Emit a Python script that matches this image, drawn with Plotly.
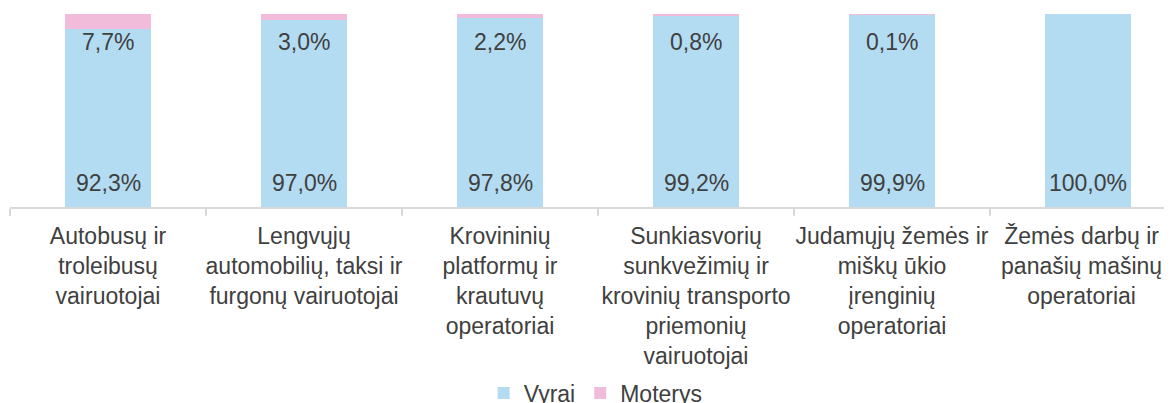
import plotly.graph_objects as go

categories = [
    "Autobusų ir<br>troleibusų<br>vairuotojai",
    "Lengvųjų<br>automobilių, taksi ir<br>furgonų vairuotojai",
    "Krovininių<br>platformų ir<br>krautuvų<br>operatoriai",
    "Sunkiasvorių<br>sunkvežimių ir<br>krovinių transporto<br>priemonių<br>vairuotojai",
    "Judamųjų žemės ir<br>miškų ūkio<br>įrenginių<br>operatoriai",
    "Žemės darbų ir<br>panašių mašinų<br>operatoriai",
]
vyrai = [92.3, 97.0, 97.8, 99.2, 99.9, 100.0]
moterys = [7.7, 3.0, 2.2, 0.8, 0.1, 0.0]

BLUE = "#b3dcf2"
PINK = "#f0bcd9"
TXT = "#404040"
FONT = "Liberation Sans, Arial, sans-serif"
FS = 23

def fmt(v):
    return f"{v:.1f}%".replace(".", ",")

# last label nudged left so it stays inside the chart area (as in the original)
ticktext = list(categories)
ticktext[-1] = "<br>".join(line + "&nbsp;&nbsp;" for line in categories[-1].split("<br>"))

fig = go.Figure()
fig.add_trace(go.Bar(x=categories, y=vyrai, name="Vyrai", marker=dict(color=BLUE, line=dict(width=0)),
                     width=0.434, hoverinfo="skip"))
fig.add_trace(go.Bar(x=categories, y=moterys, name="Moterys", marker=dict(color=PINK, line=dict(width=0)),
                     width=0.434, hoverinfo="skip"))

annotations = []
for c, v in zip(categories, vyrai):
    annotations.append(dict(x=c, y=0, text=fmt(v), showarrow=False, yanchor="middle", yshift=24,
                            font=dict(family=FONT, size=FS, color=TXT)))
for c, m in zip(categories, moterys):
    if m > 0:
        annotations.append(dict(x=c, y=100, text=fmt(m), showarrow=False, yanchor="middle", yshift=-28,
                                font=dict(family=FONT, size=FS, color=TXT)))

fig.update_layout(
    width=1172, height=403,
    margin=dict(l=2, r=8, t=6, b=204, autoexpand=False),
    barmode="stack",
    paper_bgcolor="white", plot_bgcolor="white",
    font=dict(family=FONT, size=FS, color=TXT),
    xaxis=dict(type="category", range=[-0.5, -0.5 + 1162 / 196], tickson="boundaries",
               tickmode="array", tickvals=categories, ticktext=ticktext,
               ticks="outside", ticklen=7, tickcolor="#d9d9d9", tickwidth=1.5, tickangle=0,
               automargin=False, ticklabelstandoff=8,
               showline=True, linecolor="#d9d9d9", linewidth=1.5, showgrid=False,
               tickfont=dict(family=FONT, size=FS, color=TXT)),
    yaxis=dict(range=[0, 100], visible=False, automargin=False),
    legend=dict(orientation="h", x=0.504, xanchor="center", y=-0.964, yanchor="middle",
                font=dict(family=FONT, size=FS, color=TXT), traceorder="normal"),
    annotations=annotations,
    showlegend=True,
)

fig.write_html("out.html")
